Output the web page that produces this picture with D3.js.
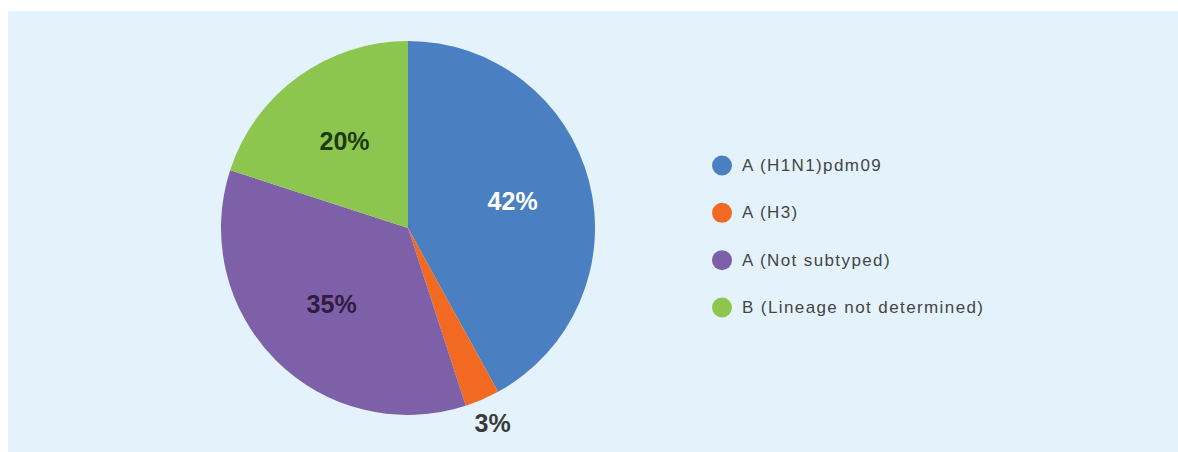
<!DOCTYPE html>
<html>
<head>
<meta charset="utf-8">
<script src="https://cdn.jsdelivr.net/npm/d3@7"></script>
<style>
  html, body { margin: 0; padding: 0; background: #ffffff; }
  svg { display: block; }
</style>
</head>
<body>
<svg id="chart" width="1178" height="452"></svg>
<script>
const categories = ["A (H1N1)pdm09", "A (H3)", "A (Not subtyped)", "B (Lineage not determined)"];
const values = [42, 3, 35, 20];
const sliceLabels = ["42%", "3%", "35%", "20%"];
const colors = ["#4a7fc2", "#f26a22", "#7e60a8", "#8dc64f"];
const labelColors = ["#ffffff", "#3a3a3a", "#2f1c40", "#1e3a10"];

const svg = d3.select("#chart");
const W = 1178, H = 452;

// panel background
svg.append("rect").attr("x", 8).attr("y", 11).attr("width", W - 8).attr("height", H - 11)
  .attr("fill", "#e4f3fb");

const cx = 408, cy = 228, R = 187;
const data = categories.map((c, i) => ({ cat: c, value: values[i], label: sliceLabels[i], color: colors[i], lc: labelColors[i] }));

const pie = d3.pie().value(d => d.value).sort(null);
const arcs = pie(data);
const arc = d3.arc().innerRadius(0).outerRadius(R);
const inLabel = d3.arc().innerRadius(108).outerRadius(108);
const outLabel = d3.arc().innerRadius(213).outerRadius(213);

const g = svg.append("g").attr("transform", `translate(${cx},${cy})`);
g.selectAll("path.slice").data(arcs).join("path")
  .attr("class", "slice")
  .attr("d", arc)
  .attr("fill", d => d.data.color);

g.selectAll("text.pct").data(arcs).join("text")
  .attr("class", "pct")
  .attr("transform", d => {
    const small = d.data.value < 5;
    const p = (small ? outLabel : inLabel).centroid(d);
    return `translate(${p[0]},${p[1]})`;
  })
  .attr("text-anchor", "middle")
  .attr("dominant-baseline", "central")
  .attr("font-family", "Liberation Sans, Arial, sans-serif")
  .attr("font-weight", "bold")
  .attr("font-size", 25)
  .attr("fill", d => d.data.lc)
  .text(d => d.data.label);

// legend
const ly = d3.scalePoint().domain(categories).range([165.5, 307.5]);
const leg = svg.append("g");
const items = leg.selectAll("g").data(data).join("g")
  .attr("transform", d => `translate(722,${ly(d.cat)})`);
items.append("circle").attr("r", 10).attr("fill", d => d.color);
items.append("text")
  .attr("x", 20)
  .attr("dominant-baseline", "central")
  .attr("font-family", "Liberation Sans, Arial, sans-serif")
  .attr("font-size", 17)
  .attr("letter-spacing", 1.4)
  .attr("fill", "#444444")
  .text(d => d.cat);
</script>
</body>
</html>
